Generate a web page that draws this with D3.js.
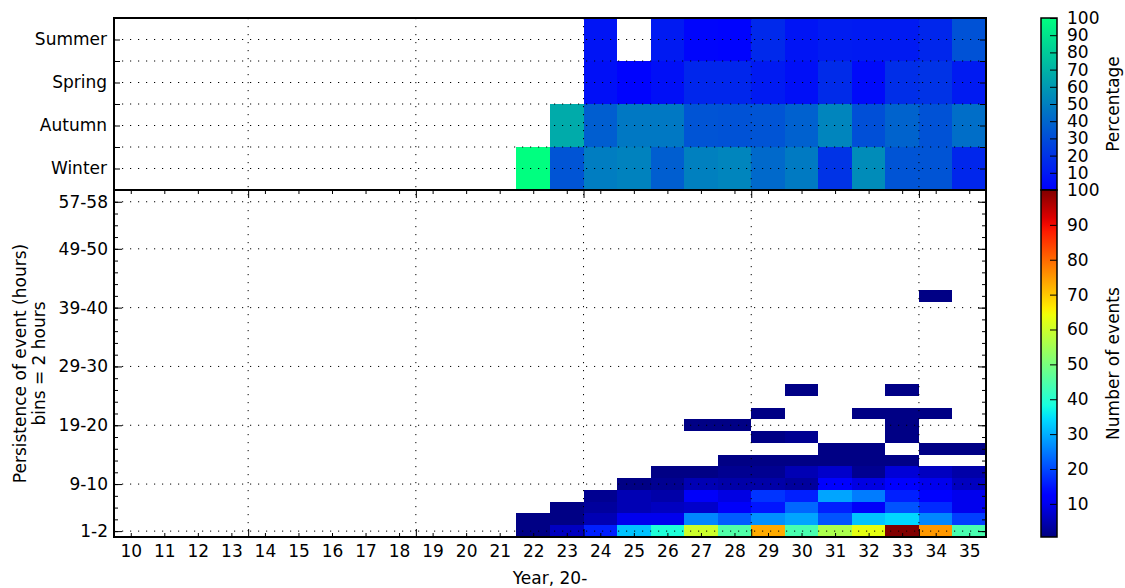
<!DOCTYPE html>
<html>
<head>
<meta charset="utf-8">
<script src="https://cdn.jsdelivr.net/npm/d3@7"></script>
<style>
  body { margin: 0; background: #fff; }
  text { font-family: "DejaVu Sans", sans-serif; font-size: 17px; fill: #000; }
</style>
</head>
<body>
<svg id="chart" width="1125" height="588"></svg>
<script>
// Years on the x axis (20xx)
const years = [10, 11, 12, 13, 14, 15, 16, 17, 18, 19, 20, 21, 22, 23, 24, 25, 26, 27, 28, 29, 30, 31, 32, 33, 34, 35];
const seasons = ['Winter', 'Autumn', 'Spring', 'Summer'];

// Seasonal share (%) for the years that have events, 22..35
const dataYears = [22, 23, 24, 25, 26, 27, 28, 29, 30, 31, 32, 33, 34, 35];
const pctWinter = [100, 33, 49, 51, 37, 50, 52, 41, 48, 20, 55, 33, 33, 15];
const pctAutumn = [null, 67, 37, 47, 47, 33, 32, 33, 38, 52, 31, 39, 32, 43];
const pctSpring = [null, null, 6, 1, 6, 15, 15, 10, 6, 17, 4, 18, 20, 10];
const pctSummer = [null, null, 8, null, 10, 2, 1, 16, 8, 11, 10, 10, 15, 32];

// Persistence bins (2 hours each) and their labelled ticks
const binLabels = ['1-2', '9-10', '19-20', '29-30', '39-40', '49-50', '57-58'];
const binLabelIndex = [0, 4, 9, 14, 19, 24, 28];

// Number of events per bin (from 1-2 upward) for each year in dataYears
const eventCounts = [
  [1, 1],
  [6, 1, 1],
  [16, 5, 3, 2],
  [32, 10, 5, 5, 1],
  [39, 10, 6, 4, 2, 1],
  [60, 26, 7, 11, 5, 1, 0, 0, 0, 1],
  [45, 22, 11, 9, 4, 2, 1, 0, 0, 1],
  [73, 27, 15, 18, 4, 2, 1, 0, 1, 0, 1],
  [44, 29, 23, 16, 3, 5, 1, 0, 2, 0, 0, 0, 1],
  [56, 21, 16, 29, 13, 7, 1, 1],
  [63, 32, 11, 25, 9, 2, 1, 1, 0, 0, 1],
  [100, 34, 21, 16, 12, 8, 1, 0, 1, 1, 1, 0, 1],
  [75, 26, 17, 13, 10, 6, 0, 1, 0, 0, 1, 0, 0, 0, 0, 0, 0, 0, 0, 0, 1],
  [44, 19, 10, 10, 6, 4, 0, 1]
];

const pctTicks = [10, 20, 30, 40, 50, 60, 70, 80, 90, 100];
const countTicks = [10, 20, 30, 40, 50, 60, 70, 80, 90, 100];

// matplotlib "jet" and "winter" colour maps
const jetR = d3.scaleLinear().domain([0, 0.35, 0.66, 0.89, 1]).range([0, 0, 1, 1, 0.5]).clamp(true);
const jetG = d3.scaleLinear().domain([0, 0.125, 0.375, 0.64, 0.91, 1]).range([0, 0, 1, 1, 0, 0]).clamp(true);
const jetB = d3.scaleLinear().domain([0, 0.11, 0.34, 0.65, 1]).range([0.5, 1, 1, 0, 0]).clamp(true);
const jet = t => d3.rgb(jetR(t) * 255, jetG(t) * 255, jetB(t) * 255).formatHex();
const winter = t => d3.rgb(0, t * 255, 255 * (1 - 0.5 * t)).formatHex();

const pctNorm = d3.scaleLinear().domain([0, 100]).range([0, 1]).clamp(true);
const countNorm = d3.scaleLinear().domain([0.5, 100]).range([0, 1]).clamp(true);

const svg = d3.select('#chart');

const plotLeft = 114, plotRight = 986, plotTop = 18, plotMid = 190, plotBottom = 537;
const x = d3.scaleLinear().domain([9.5, 35.5]).range([plotLeft, plotRight]);
const yTop = d3.scaleLinear().domain([0, 4]).range([plotMid, plotTop]);
const yBot = d3.scaleLinear().domain([0, 29.5]).range([plotBottom, plotMid]);
const gridX = [13.5, 18.5, 23.5, 28.5, 33.5];

// ---- top panel: seasonal percentage ----
const seasonRows = [pctWinter, pctAutumn, pctSpring, pctSummer];
const topCells = [];
seasonRows.forEach((row, k) => row.forEach((v, j) => {
  if (v !== null) topCells.push({ year: dataYears[j], k, v });
}));

svg.append('g')
  .attr('shape-rendering', 'crispEdges')
  .selectAll('rect')
  .data(topCells)
  .join('rect')
  .attr('x', d => x(d.year - 0.5))
  .attr('y', d => yTop(d.k + 1))
  .attr('width', d => x(d.year + 0.5) - x(d.year - 0.5))
  .attr('height', d => yTop(d.k) - yTop(d.k + 1))
  .attr('fill', d => winter(pctNorm(d.v)));

// ---- bottom panel: event counts ----
const botCells = [];
eventCounts.forEach((row, j) => row.forEach((v, i) => {
  if (v > 0) botCells.push({ year: dataYears[j], i, v });
}));

svg.append('g')
  .attr('shape-rendering', 'crispEdges')
  .selectAll('rect')
  .data(botCells)
  .join('rect')
  .attr('x', d => x(d.year - 0.5))
  .attr('y', d => yBot(d.i + 1))
  .attr('width', d => x(d.year + 0.5) - x(d.year - 0.5))
  .attr('height', d => yBot(d.i) - yBot(d.i + 1))
  .attr('fill', d => jet(countNorm(d.v)));

// ---- dotted grid ----
const grid = svg.append('g')
  .attr('stroke', '#000')
  .attr('stroke-width', 1)
  .attr('stroke-dasharray', '1.2,6.8')
  .attr('fill', 'none');

const topGridY = [0.5, 1, 1.5, 2, 2.5, 3, 3.5];
grid.selectAll('.gt').data(topGridY).join('line')
  .attr('class', 'gt')
  .attr('x1', plotLeft).attr('x2', plotRight)
  .attr('y1', d => yTop(d)).attr('y2', d => yTop(d));
grid.selectAll('.gb').data(binLabelIndex).join('line')
  .attr('class', 'gb')
  .attr('x1', plotLeft).attr('x2', plotRight)
  .attr('y1', d => yBot(d + 0.5)).attr('y2', d => yBot(d + 0.5));
grid.selectAll('.gv').data(gridX).join('line')
  .attr('class', 'gv')
  .attr('x1', d => x(d)).attr('x2', d => x(d))
  .attr('y1', plotTop).attr('y2', plotBottom);

// ---- axes ----
function axisGroup(axis, tx, ty) {
  const g = svg.append('g').attr('transform', `translate(${tx},${ty})`).call(axis);
  g.select('.domain').remove();
  g.selectAll('line').attr('stroke', '#000').attr('stroke-width', 1);
  g.selectAll('text').style('font-size', '17px').style('font-family', '"DejaVu Sans", sans-serif');
  return g;
}

// top panel y: labelled season centres + boundaries
axisGroup(d3.axisLeft(yTop).tickValues([0.5, 1.5, 2.5, 3.5])
  .tickFormat((d, i) => seasons[i]).tickSizeInner(-6).tickSizeOuter(0).tickPadding(7), plotLeft, 0);
axisGroup(d3.axisLeft(yTop).tickValues([1, 2, 3]).tickFormat('').tickSizeInner(-6).tickSizeOuter(0), plotLeft, 0);
axisGroup(d3.axisRight(yTop).tickValues([0.5, 1, 1.5, 2, 2.5, 3, 3.5]).tickFormat('').tickSizeInner(-6).tickSizeOuter(0), plotRight, 0);

// bottom panel y
axisGroup(d3.axisLeft(yBot).tickValues(binLabelIndex.map(i => i + 0.5))
  .tickFormat((d, i) => binLabels[i]).tickSizeInner(-8).tickSizeOuter(0).tickPadding(6), plotLeft, 0);
const minorBins = d3.range(0, 29).map(i => i + 0.5);
axisGroup(d3.axisLeft(yBot).tickValues(minorBins).tickFormat('').tickSizeInner(-4).tickSizeOuter(0), plotLeft, 0);
axisGroup(d3.axisRight(yBot).tickValues(binLabelIndex.map(i => i + 0.5)).tickFormat('').tickSizeInner(-8).tickSizeOuter(0), plotRight, 0);
axisGroup(d3.axisRight(yBot).tickValues(minorBins).tickFormat('').tickSizeInner(-4).tickSizeOuter(0), plotRight, 0);

// bottom panel x
axisGroup(d3.axisBottom(x).tickValues(years).tickFormat(d => d)
  .tickSizeInner(-4).tickSizeOuter(0).tickPadding(8), 0, plotBottom);
axisGroup(d3.axisBottom(x).tickValues(gridX).tickFormat('').tickSizeInner(-8).tickSizeOuter(0), 0, plotBottom);
axisGroup(d3.axisTop(x).tickValues(years).tickFormat('').tickSizeInner(-4).tickSizeOuter(0), 0, plotMid);
axisGroup(d3.axisTop(x).tickValues(gridX).tickFormat('').tickSizeInner(-8).tickSizeOuter(0), 0, plotMid);

// frames
svg.append('rect').attr('x', plotLeft).attr('y', plotTop).attr('width', plotRight - plotLeft).attr('height', plotMid - plotTop)
  .attr('fill', 'none').attr('stroke', '#000').attr('stroke-width', 2);
svg.append('rect').attr('x', plotLeft).attr('y', plotMid).attr('width', plotRight - plotLeft).attr('height', plotBottom - plotMid)
  .attr('fill', 'none').attr('stroke', '#000').attr('stroke-width', 2);

// axis titles
svg.append('text').attr('x', x(22.5)).attr('y', 584).attr('text-anchor', 'middle').text('Year, 20-');
const yTitle = svg.append('text').attr('transform', `translate(20,${(plotMid + plotBottom) / 2}) rotate(-90)`)
  .attr('text-anchor', 'middle');
yTitle.append('tspan').attr('x', 0).attr('dy', '0.35em').text('Persistence of event (hours)');
yTitle.append('tspan').attr('x', 0).attr('dy', '1.1em').text('bins = 2 hours');

// ---- colour bars ----
const cbX = 1041, cbW = 16;
const defs = svg.append('defs');
function colorbar(id, cmap, norm, domain, y0, y1, ticks, title) {
  const grad = defs.append('linearGradient').attr('id', id)
    .attr('x1', 0).attr('y1', 1).attr('x2', 0).attr('y2', 0);
  d3.range(0, 1.0001, 0.02).forEach(t => {
    grad.append('stop').attr('offset', t).attr('stop-color', cmap(norm(domain[0] + t * (domain[1] - domain[0]))));
  });
  svg.append('rect').attr('x', cbX).attr('y', y0).attr('width', cbW).attr('height', y1 - y0)
    .attr('fill', `url(#${id})`).attr('stroke', '#000').attr('stroke-width', 1.5);
  const cy = d3.scaleLinear().domain(domain).range([y1, y0]);
  axisGroup(d3.axisRight(cy).tickValues(ticks).tickSizeInner(-7).tickSizeOuter(0).tickPadding(10), cbX + cbW, 0);
  svg.append('text').attr('transform', `translate(1119,${(y0 + y1) / 2}) rotate(-90)`)
    .attr('text-anchor', 'middle').text(title);
}
colorbar('cbPct', winter, pctNorm, [0, 100], plotTop, plotMid, pctTicks, 'Percentage');
colorbar('cbCount', jet, countNorm, [0.5, 100], plotMid, plotBottom, countTicks, 'Number of events');
</script>
</body>
</html>
